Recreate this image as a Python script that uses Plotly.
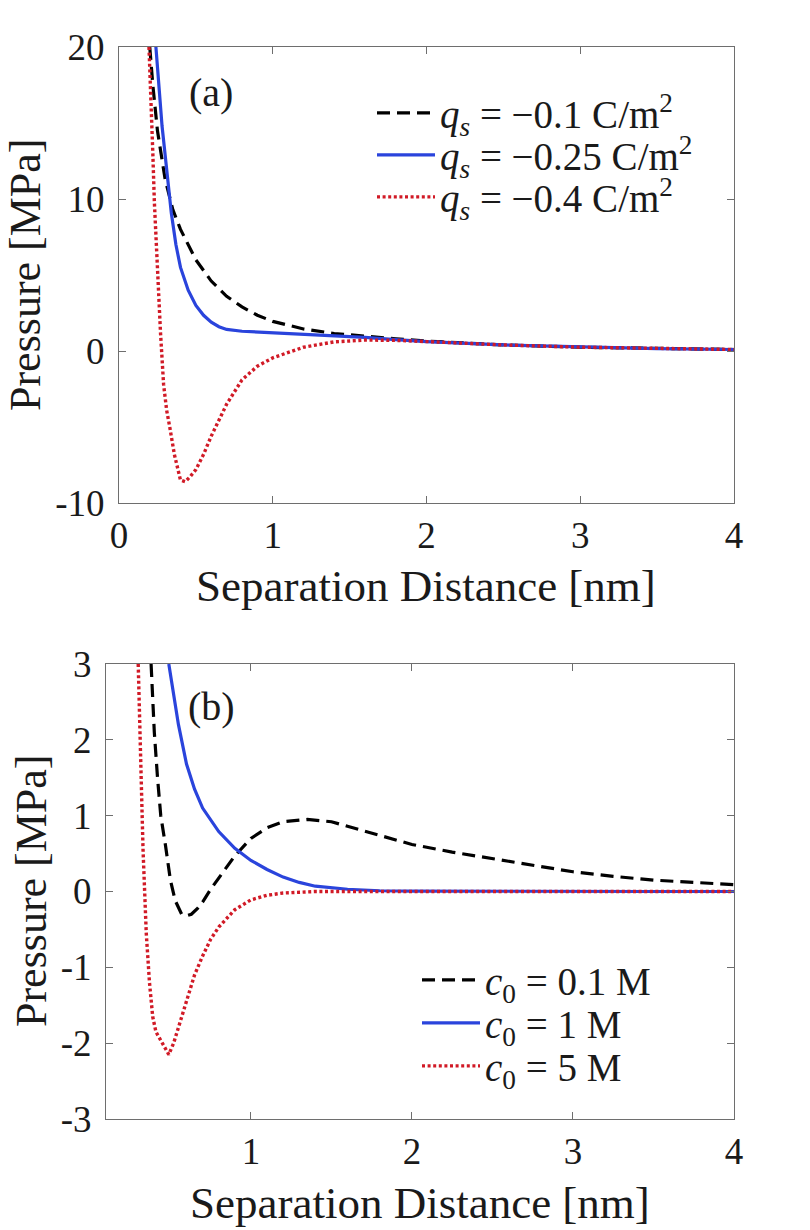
import plotly.graph_objects as go

W, H = 810, 1230

# ---------------- Panel (a): surface charge ----------------
xa_q1 = [0.2, 0.22, 0.25, 0.3, 0.35, 0.4, 0.45, 0.5, 0.6, 0.7, 0.8, 0.9, 1.0,
         1.2, 1.4, 1.6, 1.8, 2.0, 2.5, 3.0, 3.5, 4.0]
ya_q1 = [20, 17.5, 14.5, 11.3, 9.3, 8.0, 7.0, 6.0, 4.6, 3.6, 2.9, 2.35, 1.95,
         1.45, 1.15, 0.95, 0.8, 0.65, 0.4, 0.25, 0.15, 0.1]

xa_q2 = [0.24, 0.26, 0.28, 0.3, 0.32, 0.34, 0.37, 0.4, 0.45, 0.5, 0.55, 0.6, 0.65,
         0.7, 0.8, 0.9, 1.0, 1.2, 1.4, 1.6, 1.8, 2.0, 2.5, 3.0, 3.5, 4.0]
ya_q2 = [20, 17.2, 14.8, 12.9, 10.8, 9.1, 7.0, 5.5, 4.0, 3.0, 2.35, 1.9, 1.6,
         1.42, 1.3, 1.25, 1.22, 1.15, 1.05, 0.9, 0.75, 0.62, 0.4, 0.25, 0.15, 0.1]

xa_q3 = [0.195, 0.21, 0.22, 0.23, 0.25, 0.27, 0.29, 0.31, 0.33, 0.36, 0.4, 0.43,
         0.46, 0.5, 0.55, 0.6, 0.7, 0.8, 0.9, 1.0, 1.2, 1.4, 1.6, 1.8, 2.0, 2.5,
         3.0, 3.5, 4.0]
ya_q3 = [20, 16.5, 13, 9.8, 5.2, 1.2, -2.2, -3.9, -5.0, -6.8, -8.5, -8.6,
         -8.3, -7.8, -6.8, -5.6, -3.5, -1.9, -1.0, -0.45, 0.25, 0.6, 0.72, 0.7,
         0.62, 0.4, 0.25, 0.15, 0.1]

names_a = ["<i>q</i><sub><i>s</i></sub> = \u22120.1 C/m<sup>2</sup>",
           "<i>q</i><sub><i>s</i></sub> = \u22120.25 C/m<sup>2</sup>",
           "<i>q</i><sub><i>s</i></sub> = \u22120.4 C/m<sup>2</sup>"]

# ---------------- Panel (b): salt concentration ----------------
xb_c1 = [0.38, 0.40, 0.42, 0.44, 0.47, 0.5, 0.53, 0.57, 0.6, 0.63, 0.67, 0.7,
         0.75, 0.8, 0.9, 1.0, 1.1, 1.2, 1.35, 1.5, 1.7, 1.9, 2.0, 2.25, 2.5,
         2.75, 3.0, 3.25, 3.5, 3.75, 4.0]
yb_c1 = [3.0, 2.1, 1.5, 1.0, 0.6, 0.15, -0.12, -0.3, -0.32, -0.3, -0.22, -0.14,
         0.03, 0.18, 0.47, 0.7, 0.84, 0.92, 0.95, 0.92, 0.8, 0.68, 0.62, 0.52,
         0.43, 0.34, 0.26, 0.2, 0.15, 0.12, 0.09]

xb_c2 = [0.49, 0.52, 0.55, 0.6, 0.65, 0.7, 0.8, 0.9, 1.0, 1.1, 1.2, 1.3, 1.4,
         1.6, 1.8, 2.0, 2.5, 3.0, 3.5, 4.0]
yb_c2 = [3.0, 2.6, 2.2, 1.68, 1.35, 1.1, 0.79, 0.57, 0.41, 0.29, 0.19, 0.12,
         0.07, 0.03, 0.01, 0.005, 0, 0, 0, 0]

xb_c3 = [0.30, 0.31, 0.32, 0.33, 0.35, 0.37, 0.39, 0.41, 0.45, 0.49, 0.52, 0.55,
         0.6, 0.65, 0.7, 0.75, 0.8, 0.9, 1.0, 1.1, 1.2, 1.4, 1.6, 2.0, 3.0, 4.0]
yb_c3 = [3.0, 2.1, 1.35, 0.55, -0.55, -1.2, -1.65, -1.85, -2.0, -2.15, -2.0,
         -1.8, -1.43, -1.1, -0.85, -0.63, -0.47, -0.24, -0.11, -0.05, -0.02, 0,
         0, 0, 0, 0]

names_b = ["<i>c</i><sub>0</sub> = 0.1 M",
           "<i>c</i><sub>0</sub> = 1 M",
           "<i>c</i><sub>0</sub> = 5 M"]

# tick labels
xa_ticks = [0, 1, 2, 3, 4]
ya_ticks = [-10, 0, 10, 20]
ya_ticktext = ["-10", "0", "10", "20"]
xb_ticks = [1, 2, 3, 4]
yb_ticks = [-3, -2, -1, 0, 1, 2, 3]
yb_ticktext = ["-3", "-2", "-1", "0", "1", "2", "3"]

FONT = "Liberation Serif"
TXT = "#1a1a1a"
BLACK = "#000000"
BLUE = "#2a44dc"
RED = "#d11a26"
styles = [dict(color=BLACK, width=3.2, dash="13px,7px"),
          dict(color=BLUE, width=3.2, dash="solid"),
          dict(color=RED, width=3.4, dash="3px,2.6px")]

fig = go.Figure()
series_a = [(xa_q1, ya_q1), (xa_q2, ya_q2), (xa_q3, ya_q3)]
series_b = [(xb_c1, yb_c1), (xb_c2, yb_c2), (xb_c3, yb_c3)]
for i, (xs, ys) in enumerate(series_a):
    fig.add_trace(go.Scatter(x=xs, y=ys, mode="lines", name=names_a[i],
                             line=styles[i], xaxis="x", yaxis="y",
                             legend=f"legend{i+2}"))
for i, (xs, ys) in enumerate(series_b):
    fig.add_trace(go.Scatter(x=xs, y=ys, mode="lines", name=names_b[i],
                             line=styles[i], xaxis="x2", yaxis="y2",
                             legend=f"legend{i+5}"))

def px(x):
    return x / W

def py(y):
    return 1 - y / H

axis_common = dict(showline=True, linecolor="#6e6e6e", linewidth=1, mirror="ticks",
                   ticks="inside", ticklen=7, tickcolor="#6e6e6e", tickwidth=1,
                   showgrid=False, zeroline=False, automargin=False,
                   tickfont=dict(family=FONT, size=37, color=TXT))

fig.update_layout(
    width=W, height=H, margin=dict(l=0, r=0, t=0, b=0, autoexpand=False),
    paper_bgcolor="white", plot_bgcolor="white", showlegend=True,
    font=dict(family=FONT, color=TXT),
    xaxis=dict(domain=[px(119), px(734)], range=[0, 4], anchor="y",
               tickvals=xa_ticks, ticklabelstandoff=0, **axis_common),
    yaxis=dict(domain=[py(503), py(47)], range=[-10, 20], anchor="x",
               tickvals=ya_ticks, ticktext=ya_ticktext, ticklabelstandoff=6,
               **axis_common),
    xaxis2=dict(domain=[px(106), px(734)], range=[0.1, 4], anchor="y2",
                tickvals=xb_ticks, ticklabelstandoff=0, **axis_common),
    yaxis2=dict(domain=[py(1119), py(664)], range=[-3, 3], anchor="x2",
                tickvals=yb_ticks, ticktext=yb_ticktext, ticklabelstandoff=6,
                **axis_common),
)

leg_common = dict(xanchor="left", yanchor="middle", bgcolor="rgba(0,0,0,0)",
                  borderwidth=0, itemwidth=58,
                  font=dict(family=FONT, size=39, color=TXT))
rows_a = [113, 155, 197]
rows_b = [980, 1023, 1066]
for i, yy in enumerate(rows_a):
    fig.update_layout({f"legend{i+2}": dict(x=px(372), y=py(yy), **leg_common)})
for i, yy in enumerate(rows_b):
    fig.update_layout({f"legend{i+5}": dict(x=px(417), y=py(yy), **leg_common)})

annots = [
    dict(text="(a)", x=px(211), y=py(92), size=40),
    dict(text="(b)", x=px(211), y=py(706), size=40),
    dict(text="Separation Distance [nm]", x=px(426), y=py(586), size=45),
    dict(text="Separation Distance [nm]", x=px(420), y=py(1203), size=45),
]
for a in annots:
    fig.add_annotation(text=a["text"], x=a["x"], y=a["y"], xref="paper", yref="paper",
                       xanchor="center", yanchor="middle", showarrow=False,
                       font=dict(family=FONT, size=a["size"], color=TXT))
for (xx, yy) in [(25, 275), (31, 891)]:
    fig.add_annotation(text="Pressure [MPa]", x=px(xx), y=py(yy), xref="paper",
                       yref="paper", xanchor="center", yanchor="middle",
                       showarrow=False, textangle=-90,
                       font=dict(family=FONT, size=44, color=TXT))

fig.write_html("out.html",
               config={"displayModeBar": False},
               post_script="document.body.style.margin='0px';"
                           "document.body.style.padding='0px';")
